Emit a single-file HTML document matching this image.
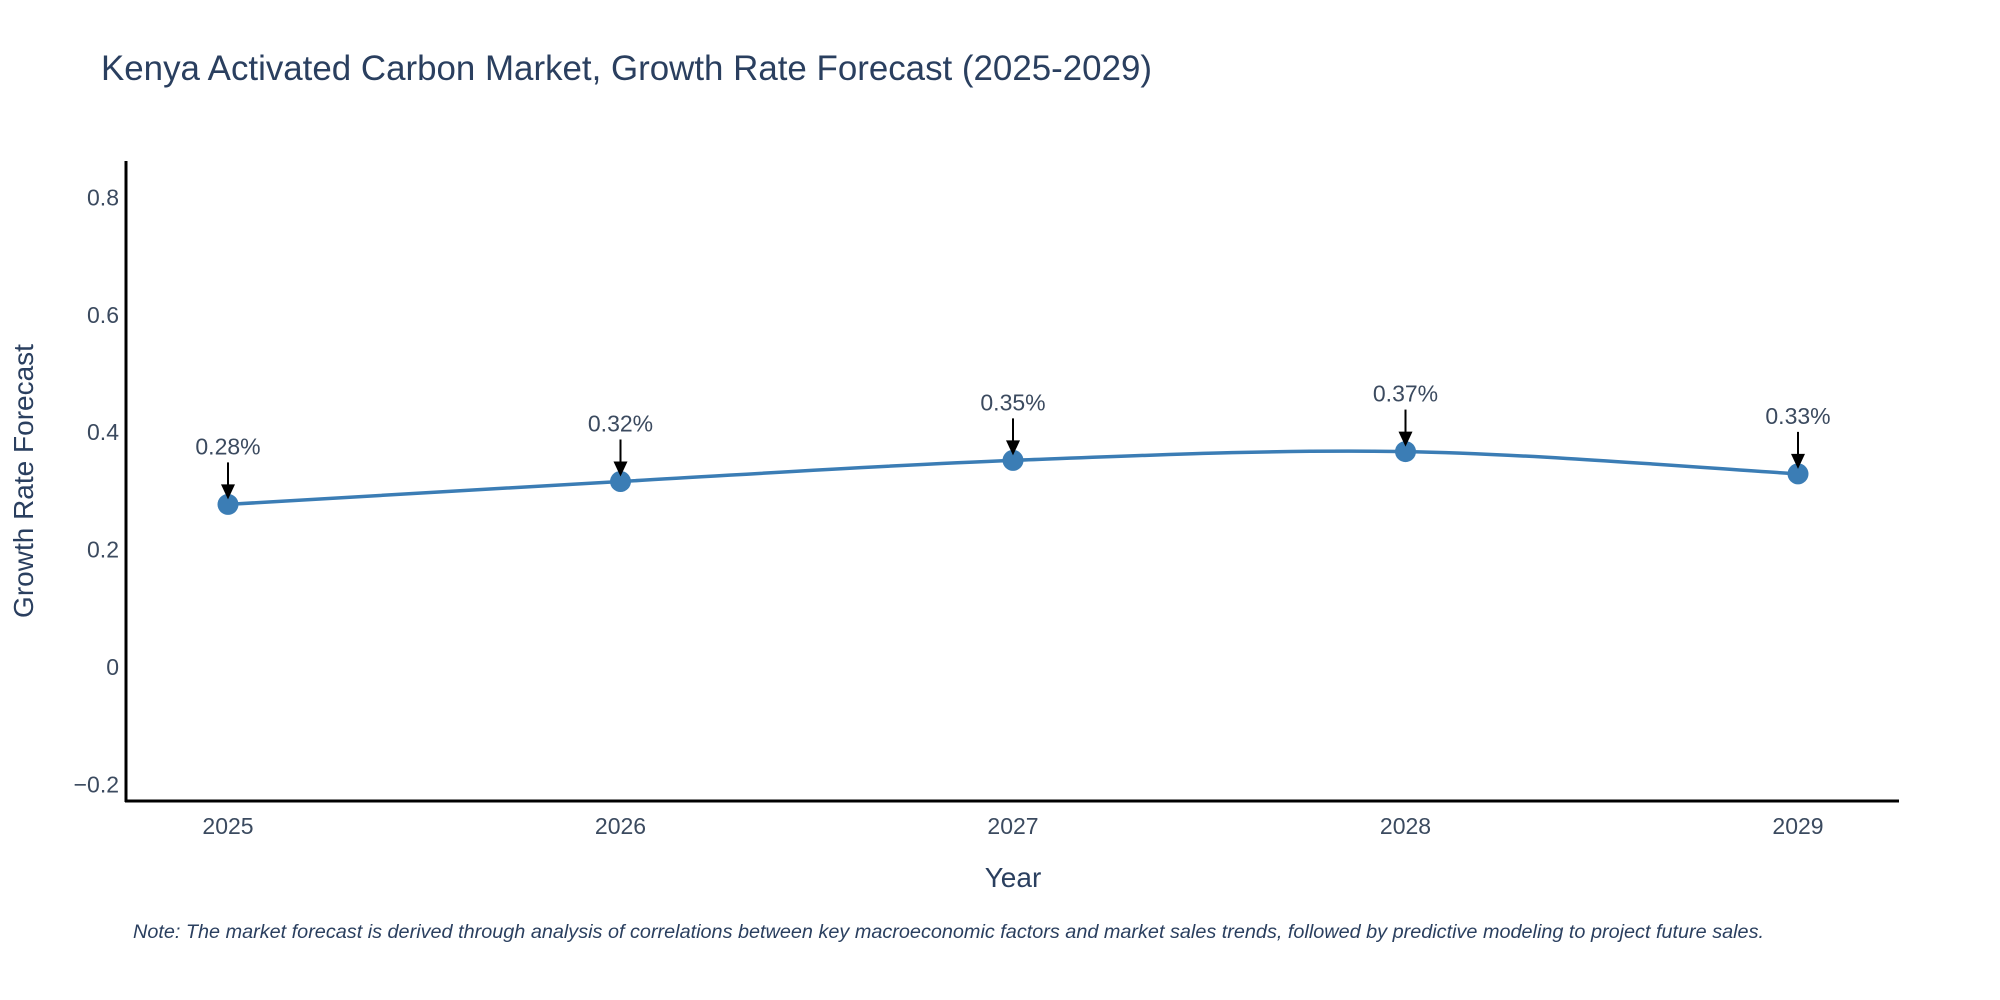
<!DOCTYPE html>
<html><head><meta charset="utf-8"><style>
html,body{margin:0;padding:0;background:#fff;}
svg{display:block;font-family:"Liberation Sans","DejaVu Sans",sans-serif;}
</style></head><body>
<svg id="chart" width="2000" height="1000" viewBox="0 0 2000 1000">
<text x="101" y="80" font-size="35" fill="#2a3f5f" textLength="1051" lengthAdjust="spacingAndGlyphs">Kenya Activated Carbon Market, Growth Rate Forecast (2025-2029)</text>
<g id="yticks"></g>
<g id="xticks"></g>
<line x1="126" y1="161" x2="126" y2="802" stroke="#000" stroke-width="3"/>
<line x1="125" y1="801" x2="1899" y2="801" stroke="#000" stroke-width="3"/>
<text transform="translate(33,481) rotate(-90)" text-anchor="middle" font-size="28" fill="#2a3f5f">Growth Rate Forecast</text>
<text x="1013" y="887" text-anchor="middle" font-size="28" fill="#2a3f5f">Year</text>
<g id="series"></g>
<g id="annos"></g>
<text x="133" y="938" font-size="19" font-style="italic" fill="#2a3f5f" textLength="1631" lengthAdjust="spacingAndGlyphs">Note: The market forecast is derived through analysis of correlations between key macroeconomic factors and market sales trends, followed by predictive modeling to project future sales.</text>
</svg>
<script>
const years = [2025, 2026, 2027, 2028, 2029];
const values = [0.277, 0.316, 0.352, 0.367, 0.329];
const valueLabels = ["0.28%", "0.32%", "0.35%", "0.37%", "0.33%"];
const yTickValues = [-0.2, 0, 0.2, 0.4, 0.6, 0.8];
const yTickLabels = ["\u22120.2", "0", "0.2", "0.4", "0.6", "0.8"];

const NS = "http://www.w3.org/2000/svg";
function xs(v){ return 228 + (v - 2025) * 392.5; }
function ys(v){ return 667 - v * 587; }
function mk(tag, attrs, parent){
  const e = document.createElementNS(NS, tag);
  for (const k in attrs) e.setAttribute(k, attrs[k]);
  parent.appendChild(e); return e;
}
const yt = document.getElementById('yticks');
yTickValues.forEach((v,i)=>{
  const t = mk('text',{x:119,y:ys(v)+8,'text-anchor':'end','font-size':23,fill:'#3b4a5f'},yt);
  
  
  t.textContent = yTickLabels[i];
});
const xt = document.getElementById('xticks');
years.forEach(y=>{
  const t = mk('text',{x:xs(y),y:834,'text-anchor':'middle','font-size':23,fill:'#3b4a5f'},xt);
  
  
  t.textContent = String(y);
});
const pts = years.map((y,i)=>[xs(y), ys(values[i])]);
let d = "M"+pts[0][0]+","+pts[0][1];
for (let i=0;i<pts.length-1;i++){
  const p0 = pts[Math.max(0,i-1)], p1 = pts[i], p2 = pts[i+1], p3 = pts[Math.min(pts.length-1,i+2)];
  const s = 0.5/3;
  const c1 = [p1[0]+(p2[0]-p0[0])*s, p1[1]+(p2[1]-p0[1])*s];
  const c2 = [p2[0]-(p3[0]-p1[0])*s, p2[1]-(p3[1]-p1[1])*s];
  d += " C"+c1[0]+","+c1[1]+" "+c2[0]+","+c2[1]+" "+p2[0]+","+p2[1];
}
const sg = document.getElementById('series');
const line = mk('path',{d:d,fill:'none',stroke:'#3b7db5','stroke-width':3.5},sg);


const ag = document.getElementById('annos');
pts.forEach((p,i)=>{
  const c = mk('circle',{cx:p[0],cy:p[1],r:10.5,fill:'#3b7db5'},sg);
  
  
  const ln = mk('line',{x1:p[0],y1:p[1]-42,x2:p[0],y2:p[1]-18,stroke:'#000','stroke-width':2},ag);
  
  
  const hd = mk('path',{d:"M"+(p[0]-7)+","+(p[1]-20)+" L"+(p[0]+7)+","+(p[1]-20)+" L"+p[0]+","+(p[1]-5)+" Z",fill:'#000'},ag);
  
  
  const t = mk('text',{x:p[0],y:p[1]-50,'text-anchor':'middle','font-size':23,fill:'#3b4a5f'},ag);
  
  
  t.textContent = valueLabels[i];
});
</script>
</body></html>
